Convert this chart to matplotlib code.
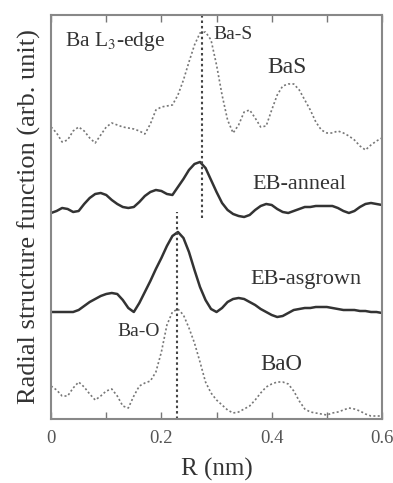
import numpy as np
import matplotlib
matplotlib.use("Agg")
import matplotlib.pyplot as plt

plt.rcParams['font.family'] = ['Liberation Serif', 'DejaVu Serif']
plt.rcParams['mathtext.fontset'] = 'stix'

# R grid (nm) and radial structure function (arb. unit)
r = np.round(np.arange(0, 0.601, 0.01), 2)

bas = [292, 286, 277, 279, 288, 292, 288, 281, 276, 284,
       292, 296, 294, 292, 291, 290, 288, 285, 295, 309,
       312, 313, 314, 324, 339, 357, 374, 386, 387, 379,
       354, 324, 299, 286, 294, 307, 309, 301, 292, 293,
       309, 324, 333, 335, 335, 329, 319, 309, 297, 289,
       286, 286, 288, 286, 283, 279, 273, 269, 274, 278, 281]

eb_anneal = [206, 208, 211, 210, 207, 208, 215, 221, 225, 226,
             224, 219, 215, 212, 211, 212, 217, 223, 227, 229,
             228, 225, 224, 232, 240, 249, 255, 257, 251, 239,
             227, 216, 209, 205, 203, 202, 204, 209, 213, 215,
             214, 210, 207, 206, 208, 210, 212, 212, 213, 213,
             213, 213, 211, 208, 206, 208, 212, 215, 216, 215, 214]

eb_asgrown = [107, 107, 107, 107, 107, 109, 113, 117, 120, 123,
              125, 126, 125, 119, 111, 107, 116, 127, 138, 150,
              161, 173, 183, 187, 181, 167, 149, 132, 119, 110,
              107, 111, 117, 120, 121, 120, 117, 114, 110, 107,
              104, 102, 103, 106, 109, 110, 111, 111, 112, 112,
              112, 111, 110, 109, 109, 109, 108, 108, 107, 107, 106]

bao = [33, 29, 23, 23, 31, 37, 32, 25, 19, 23,
       28, 30, 23, 13, 11, 23, 33, 36, 38, 47,
       67, 94, 107, 110, 104, 91, 76, 57, 37, 26,
       19, 14, 9, 6, 7, 10, 13, 19, 26, 32,
       35, 37, 37, 35, 28, 18, 10, 7, 6, 5,
       4, 6, 7, 9, 11, 10, 8, 5, 3, 3, 3]

r_bas = 0.274   # Ba-S distance
r_bao = 0.228   # Ba-O distance

fig = plt.figure(figsize=(3.93, 4.83), dpi=100)
ax = fig.add_axes([0.130, 0.1325, 0.842, 0.8365])

dot = (0, (1.2, 1.4))
ax.plot(r, bas, color="#777777", lw=1.2, ls=dot)
ax.plot(r, eb_anneal, color="#333333", lw=1.8)
ax.plot(r, eb_asgrown, color="#333333", lw=1.8)
ax.plot(r, bao, color="#777777", lw=1.2, ls=dot)

ax.plot([r_bas, r_bas], [201, 404], color="#444444", lw=1.5, ls=dot)
ax.plot([r_bao, r_bao], [0, 207], color="#444444", lw=1.5, ls=dot)

tc = "#333333"
ax.text(0.025, 377, "Ba L$_3$-edge", fontsize=15.5, color=tc, va="center")
ax.text(0.294, 384, "Ba-S", fontsize=14, color=tc, va="center")
ax.text(0.428, 351, "BaS", fontsize=17, color=tc, va="center", ha="center")
ax.text(0.45, 234, "EB-anneal", fontsize=16, color=tc, va="center", ha="center")
ax.text(0.462, 139, "EB-asgrown", fontsize=16, color=tc, va="center", ha="center")
ax.text(0.121, 87, "Ba-O", fontsize=14, color=tc, va="center")
ax.text(0.417, 54, "BaO", fontsize=16.5, color=tc, va="center", ha="center")

ax.set_xlim(0, 0.6)
ax.set_ylim(0, 404)
ax.set_xticks([0, 0.2, 0.4, 0.6])
ax.set_xticklabels(["0", "0.2", "0.4", "0.6"])
ax.set_xticks([0.1, 0.3, 0.5], minor=True)
ax.set_yticks([])
ax.tick_params(axis="x", which="both", direction="in", top=True,
               length=5, width=1, color="#777777", labelsize=13.5,
               labelcolor="#555555", pad=8)
for s in ax.spines.values():
    s.set_color("#888888")
    s.set_linewidth(1.5)

ax.set_xlabel("R (nm)", fontsize=18, color=tc, labelpad=8)
ax.set_ylabel("Radial structure function (arb. unit)", fontsize=19, color=tc, labelpad=7)

fig.savefig("out.png", dpi=100)
